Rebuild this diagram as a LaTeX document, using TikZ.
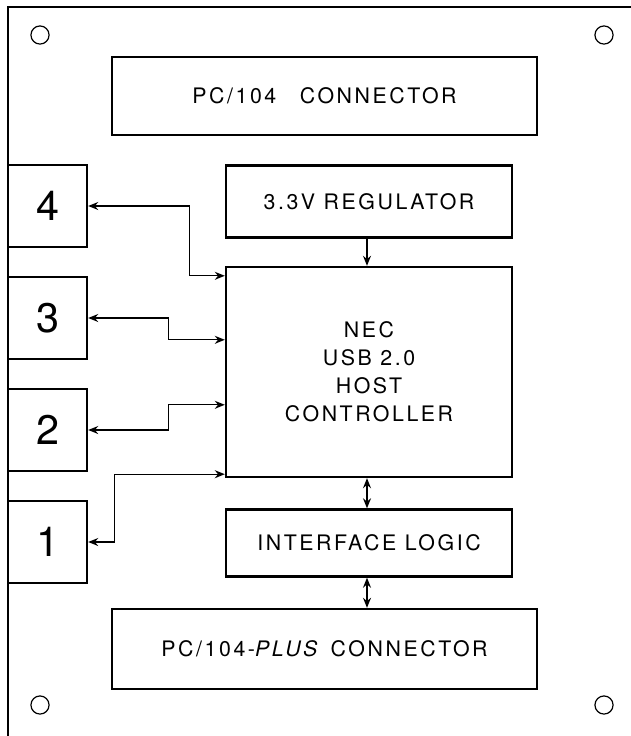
\documentclass[tikz,border=0pt]{standalone}
\usepackage{fontspec}
\newfontfamily\lblfont[LetterSpace=12]{TeX Gyre Heros}
\newfontfamily\digfont{TeX Gyre Heros}
\usepackage{tikz}
\usetikzlibrary{calc,arrows.meta,positioning}

\tikzset{
  board/.style={line width=2.2pt},
  blk/.style={draw, line width=1.8pt, rectangle, inner sep=0pt, align=center,
              font=\lblfont\fontsize{16}{21}\selectfont},
  port/.style={blk, minimum width=59.25pt, minimum height=61.5pt,
               font=\digfont\fontsize{31}{34}\selectfont},
  link/.style={line width=1pt, -{Stealth[length=7.5pt,width=6pt]}},
  dlink/.style={line width=1pt, {Stealth[length=7.5pt,width=6pt]}-{Stealth[length=7.5pt,width=6pt]}},
  hole/.style={line width=0.9pt}
}

\begin{document}
\begin{tikzpicture}[x=0.75pt, y=-0.75pt]
  \useasboundingbox (0,0) rectangle (631,736);

  % board outline and mounting holes
  \draw[board] (640,7) -- (8,7) -- (8,745);
  \foreach \hx/\hy in {40/35, 604/35, 40/705, 604/705}
    \draw[hole] (\hx,\hy) circle (6.8pt);

  % blocks
  \node[blk, minimum width=318.75pt, minimum height=58.5pt] (pc) at (324.5,96) {PC/104\hspace{1.1em}CONNECTOR};
  \node[blk, minimum width=214.5pt, minimum height=54pt] (reg) at (369,201.5) {3.3V REGULATOR};
  \node[blk, minimum width=214.5pt, minimum height=157.5pt] (nec) at (369,372) {NEC\\USB 2.0\\HOST\\CONTROLLER};
  \node[blk, minimum width=214.5pt, minimum height=50.25pt] (ifl) at (369,543) {INTERFACE LOGIC};
  \node[blk, minimum width=318.75pt, minimum height=60pt] (plus) at (324.5,649) {PC/104-\textit{PLUS}\hspace{0.5em}CONNECTOR};

  % USB ports
  \node[port] (p4) at (47.5,206) {4};
  \node[port] (p3) at (47.5,318) {3};
  \node[port] (p2) at (47.5,430) {2};
  \node[port] (p1) at (47.5,542) {1};

  \coordinate (n4) at ($(nec.north west)+(0,10)$);
  \coordinate (n3) at ($(nec.north west)+(0,74)$);
  \coordinate (n2) at ($(nec.north west)+(0,139)$);
  \coordinate (n1) at ($(nec.south west)+(0,-4)$);

  \draw[dlink] (p4.east) -- ++(101,0) |- (n4);
  \draw[dlink] (p3.east) -- ++(80,0) |- (n3);
  \draw[dlink] (p2.east) -- ++(80,0) |- (n2);
  \draw[dlink] (p1.east) -- ++(26,0) |- (n1);

  % vertical links on the bus
  \coordinate (rs) at ($(reg.south)+(-2,0)$);
  \coordinate (ns) at ($(nec.south)+(-2,0)$);
  \coordinate (is) at ($(ifl.south)+(-2,0)$);
  \draw[link] (rs) -- (rs |- nec.north);
  \draw[dlink] (ns) -- (ns |- ifl.north);
  \draw[dlink] (is) -- (is |- plus.north);
\end{tikzpicture}
\end{document}
